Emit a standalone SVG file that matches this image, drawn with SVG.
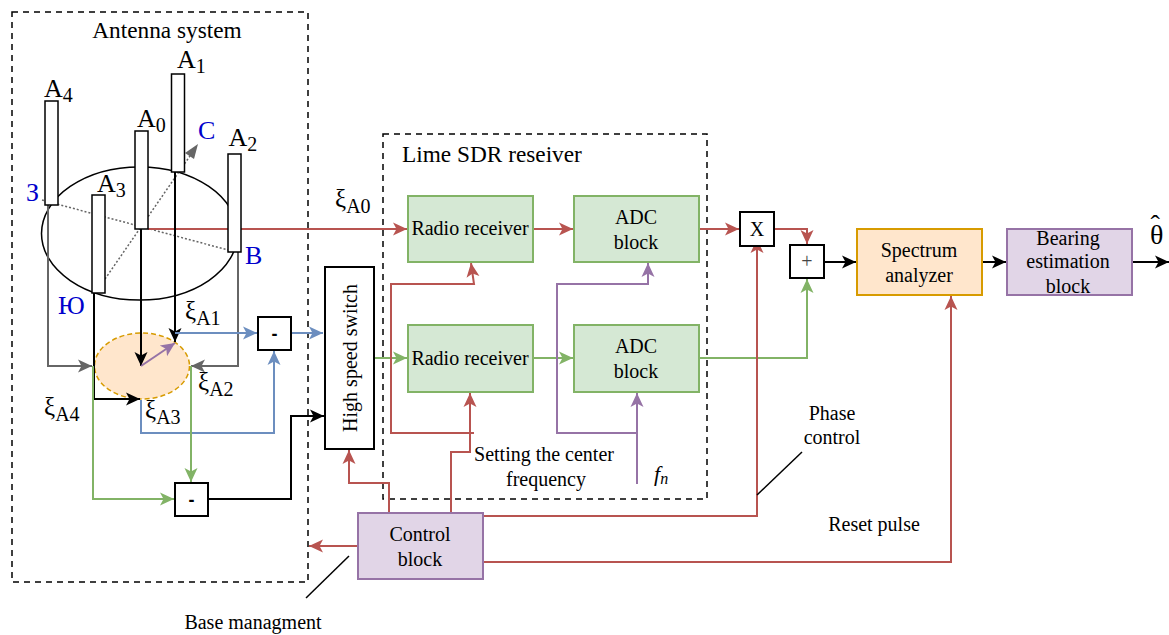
<svg xmlns="http://www.w3.org/2000/svg" width="1169" height="635" viewBox="0 0 1169 635">
<style>
text{font-family:"Liberation Serif","Times New Roman",serif;fill:#000;font-size:20px}
.c{text-anchor:middle}
.big{font-size:26px}
.sub{font-size:20px}
.xi{font-size:25px}
.bl{fill:#0000cc;font-size:26px}
.ant{fill:#fff;stroke:#000;stroke-width:1.500}
.gb{fill:#d5e8d4;stroke:#82b366;stroke-width:2}
.pb{fill:#e1d5e7;stroke:#9673a6;stroke-width:2}
.ob{fill:#ffe6cc;stroke:#d79b00;stroke-width:2}
.wb{fill:#fff;stroke:#000;stroke-width:2}
.frame{fill:none;stroke:#000;stroke-width:1.500;stroke-dasharray:6 5}
.title{font-size:23.300px}
.minus{font-family:"Liberation Sans",sans-serif;font-weight:bold;font-size:18px}
#connectors path{fill:none;stroke-width:2}
.r{stroke:#b85450}.g{stroke:#82b366}.b{stroke:#6c8ebf}.p{stroke:#9673a6}.k{stroke:#000}.y{stroke:#666}
.ar{marker-end:url(#mr)}.ag{marker-end:url(#mg)}.ab{marker-end:url(#mb)}.ap{marker-end:url(#mp)}.ak{marker-end:url(#mk)}.ay{marker-end:url(#my)}
</style>
<defs>
<marker id="mr" markerUnits="userSpaceOnUse" markerWidth="15" markerHeight="15" refX="14" refY="7.500" orient="auto"><path d="M0 1L14 7.500L0 14L3.500 7.500Z" fill="#b85450"/></marker>
<marker id="mg" markerUnits="userSpaceOnUse" markerWidth="15" markerHeight="15" refX="14" refY="7.500" orient="auto"><path d="M0 1L14 7.500L0 14L3.500 7.500Z" fill="#82b366"/></marker>
<marker id="mb" markerUnits="userSpaceOnUse" markerWidth="15" markerHeight="15" refX="14" refY="7.500" orient="auto"><path d="M0 1L14 7.500L0 14L3.500 7.500Z" fill="#6c8ebf"/></marker>
<marker id="mp" markerUnits="userSpaceOnUse" markerWidth="15" markerHeight="15" refX="14" refY="7.500" orient="auto"><path d="M0 1L14 7.500L0 14L3.500 7.500Z" fill="#9673a6"/></marker>
<marker id="mk" markerUnits="userSpaceOnUse" markerWidth="15" markerHeight="15" refX="14" refY="7.500" orient="auto"><path d="M0 1L14 7.500L0 14L3.500 7.500Z" fill="#000"/></marker>
<marker id="my" markerUnits="userSpaceOnUse" markerWidth="15" markerHeight="15" refX="14" refY="7.500" orient="auto"><path d="M0 1L14 7.500L0 14L3.500 7.500Z" fill="#666"/></marker>
</defs>
<rect width="1169" height="635" fill="#fff"/>

<g id="antenna-frame"><path class="frame" d="M12 12H308V582H12Z"/><text x="167" y="38" class="c title">Antenna system</text></g>
<g id="sdr-frame"><path class="frame" d="M383 134H707V499H383Z"/><text x="402" y="162" class="title">Lime SDR reseiver</text></g>

<g id="base-ellipse"><ellipse cx="139.500" cy="233.500" rx="98" ry="66.500" fill="#fff" stroke="#000" stroke-width="1.500"/></g>
<g id="axes" fill="none" stroke="#666" stroke-width="1.500" stroke-dasharray="2 2">
<path d="M42 200L228 250"/><path d="M105 279L192 153"/>
</g>
<path d="M198 144L194 159L185 153Z" fill="#666"/>
<g id="mixer-ellipse"><ellipse cx="142" cy="366" rx="47.500" ry="33" fill="#ffe6cc" stroke="#d79b00" stroke-width="1.500" stroke-dasharray="5 3"/></g>

<g id="connectors">
<path class="r ar" d="M148 229H407"/>
<path class="y ay" d="M48 205V366H92"/>
<path class="y ay" d="M238 252V366H191"/>
<path class="k ak" d="M141 229V366"/>
<path class="k ak" d="M175 172V342"/>
<path class="k ak" d="M94 293V399H140"/>
<path class="p ap" d="M141 366L175 343"/>
<path class="b ab" d="M175 333H257"/>
<path class="b ab" d="M291 333H323"/>
<path class="b ab" d="M141 400V433H274V351"/>
<path class="g ag" d="M93 366V499H174"/>
<path class="g ag" d="M191 366V482"/>
<path class="k ak" d="M208 499H291V416H324"/>
<path class="g ag" d="M374 358H407"/>
<path class="r ar" d="M533 229H573"/>
<path class="g ag" d="M533 358H573"/>
<path class="r ar" d="M389 513V483H349V450"/>
<path class="r ar" d="M451 513V452H470V393"/>
<path class="r ar" d="M474 433H391V284H474L471 263"/>
<path class="p ap" d="M637 484V393"/>
<path class="p ap" d="M637 433H557V284H648V263"/>
<path class="r ar" d="M699 229H739"/>
<path class="r ar" d="M774 229H807V244"/>
<path class="g ag" d="M699 358H807V279"/>
<path class="k ak" d="M824 262H856"/>
<path class="k ak" d="M982 262H1006"/>
<path class="k ak" d="M1132 262H1169"/>
<path class="r ar" d="M483 516H757V239"/>
<path class="r ar" d="M483 562H951V296"/>
<path class="r ar" d="M358 546H309"/>
<path class="k" style="stroke-width:1.500" d="M757 495L802 452"/>
<path class="k" style="stroke-width:1.500" d="M306 598L349 556"/>
</g>

<g id="A4"><rect class="ant" x="45" y="101" width="13" height="104"/><text x="44" y="97" class="big">A<tspan class="sub" dy="5">4</tspan></text></g>
<g id="A1"><rect class="ant" x="171.500" y="74" width="13" height="98"/><text x="177" y="68" class="big">A<tspan class="sub" dy="5">1</tspan></text></g>
<g id="A0"><rect class="ant" x="135" y="131" width="13" height="98"/><text x="137" y="127" class="big">A<tspan class="sub" dy="5">0</tspan></text></g>
<g id="A2"><rect class="ant" x="228" y="154" width="13" height="98"/><text x="228.500" y="146" class="big">A<tspan class="sub" dy="5">2</tspan></text></g>
<g id="A3"><rect class="ant" x="92" y="195" width="13" height="98"/><text x="97" y="192" class="big">A<tspan class="sub" dy="5">3</tspan></text></g>

<g id="directions">
<text x="198" y="139" class="bl">С</text><text x="245" y="264" class="bl">В</text><text x="26" y="201" class="bl">З</text><text x="58" y="314" class="bl">Ю</text>
</g>

<g id="diff1"><rect class="wb" x="258" y="317" width="33" height="33"/><text x="274.500" y="340" class="c minus">-</text></g>
<g id="diff2"><rect class="wb" x="175" y="483" width="33" height="33"/><text x="191.500" y="506" class="c minus">-</text></g>
<g id="switch"><rect class="wb" x="325" y="267" width="49" height="182"/><text transform="translate(357 358) rotate(-90)" class="c">High speed switch</text></g>
<g id="rr1"><rect class="gb" x="408" y="196" width="125" height="66"/><text x="470" y="235" class="c">Radio receiver</text></g>
<g id="rr2"><rect class="gb" x="408" y="325" width="125" height="67"/><text x="470" y="365" class="c">Radio receiver</text></g>
<g id="adc1"><rect class="gb" x="574" y="196" width="125" height="66"/><text x="636" y="224" class="c">ADC</text><text x="636" y="249" class="c">block</text></g>
<g id="adc2"><rect class="gb" x="574" y="325" width="125" height="67"/><text x="636" y="353" class="c">ADC</text><text x="636" y="378" class="c">block</text></g>
<g id="mult"><rect class="wb" x="740" y="212" width="34" height="34"/><text x="757" y="236" class="c">X</text></g>
<g id="sum"><rect class="wb" x="790" y="245" width="34" height="33"/><text x="807" y="268" class="c" style="fill:#444">+</text></g>
<g id="spectrum"><rect class="ob" x="857" y="229" width="125" height="66"/><text x="919" y="257" class="c">Spectrum</text><text x="919" y="282" class="c">analyzer</text></g>
<g id="bearing"><rect class="pb" x="1007" y="229" width="125" height="66"/><text x="1068" y="245" class="c">Bearing</text><text x="1068" y="268" class="c">estimation</text><text x="1068" y="293" class="c">block</text></g>
<g id="control"><rect class="pb" x="358" y="513" width="125" height="66"/><text x="420" y="541" class="c">Control</text><text x="420" y="566" class="c">block</text></g>

<g id="labels">
<text x="185" y="319" class="xi">ξ<tspan class="sub" dy="6">A1</tspan></text>
<text x="198" y="390" class="xi">ξ<tspan class="sub" dy="6">A2</tspan></text>
<text x="145" y="418" class="xi">ξ<tspan class="sub" dy="6">A3</tspan></text>
<text x="44" y="415" class="xi">ξ<tspan class="sub" dy="6">A4</tspan></text>
<text x="335" y="207" class="xi">ξ<tspan class="sub" dy="6">A0</tspan></text>
<text x="544" y="461" class="c">Setting the center</text>
<text x="546" y="486" class="c">frequency</text>
<text x="654" y="481" style="font-style:italic;font-size:22px">f<tspan style="font-size:16px" dy="3">n</tspan></text>
<text x="832" y="420" class="c">Phase</text>
<text x="832" y="444" class="c">control</text>
<text x="874" y="531" class="c">Reset pulse</text>
<text x="253" y="629" class="c">Base managment</text>
<text x="1150" y="244" style="font-size:28px">θ<tspan dx="-13" dy="-10">ˆ</tspan></text>
</g>
</svg>
